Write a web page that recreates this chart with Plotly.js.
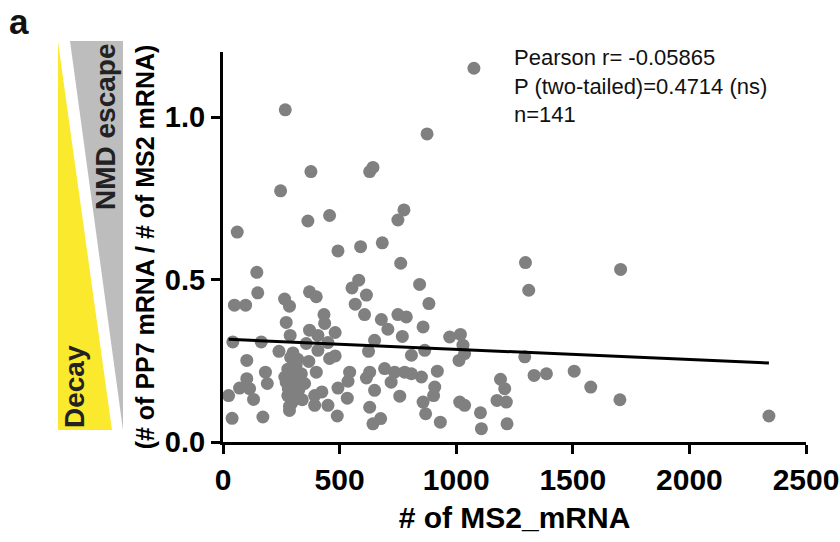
<!DOCTYPE html>
<html>
<head>
<meta charset="utf-8">
<script src="https://cdn.plot.ly/plotly-3.0.1.min.js"></script>
<style>html,body{margin:0;padding:0;background:#fff;}#chart{width:840px;height:542px;}</style>
</head>
<body>
<div id="chart"></div>
<script>
// ---- data ----
const ms2Counts = [
  1076, 267, 875, 377, 629, 643, 247, 61, 364, 457, 776, 750, 493, 590, 683, 762,
  145, 149, 49, 97, 264, 285, 371, 400, 271, 288, 371, 42, 164, 357, 240, 300, 102, 368,
  182, 278, 314, 336, 190, 102, 71, 114, 131, 24, 271, 314, 278, 311, 285, 393, 39, 171, 400,
  553, 582, 615, 567, 607, 433, 436, 679, 707, 750, 786, 769, 481, 407, 450, 650, 624, 407,
  808, 457, 481, 543, 629, 693, 736, 779, 808, 615, 721, 536, 493, 650, 393, 424, 533, 450,
  758, 629, 490, 643, 676,
  843, 883, 858, 972, 1018, 1029, 1036, 1012, 865, 851, 919, 908, 903, 858, 869, 932, 1015,
  1036, 1104, 1108, 1190, 1208, 1175, 1215, 1218,
  1297, 1311, 1294, 1334, 1387, 1506, 1577,
  1705, 1702, 2341,
  290, 320, 300, 330, 280, 325, 295, 340, 265, 305, 350, 285
];
const ratioPP7toMS2 = [
  1.150, 1.022, 0.948, 0.832, 0.832, 0.845, 0.773, 0.646, 0.680, 0.697, 0.714, 0.683, 0.588, 0.601, 0.613, 0.550,
  0.522, 0.459, 0.421, 0.421, 0.440, 0.418, 0.462, 0.447, 0.368, 0.328, 0.344, 0.308, 0.308, 0.303, 0.279, 0.274, 0.251, 0.248,
  0.215, 0.224, 0.238, 0.210, 0.180, 0.195, 0.166, 0.164, 0.131, 0.143, 0.184, 0.184, 0.143, 0.138, 0.097, 0.113, 0.073, 0.077, 0.215,
  0.474, 0.498, 0.452, 0.424, 0.392, 0.392, 0.365, 0.377, 0.347, 0.392, 0.385, 0.325, 0.337, 0.328, 0.306, 0.313, 0.279, 0.282,
  0.267, 0.257, 0.265, 0.215, 0.215, 0.226, 0.215, 0.215, 0.210, 0.197, 0.184, 0.187, 0.166, 0.159, 0.143, 0.154, 0.135, 0.113,
  0.141, 0.107, 0.080, 0.056, 0.072,
  0.485, 0.426, 0.354, 0.323, 0.331, 0.298, 0.272, 0.251, 0.282, 0.200, 0.218, 0.169, 0.143, 0.123, 0.087, 0.061, 0.123,
  0.113, 0.090, 0.041, 0.193, 0.164, 0.128, 0.123, 0.056,
  0.552, 0.467, 0.262, 0.205, 0.210, 0.218, 0.169,
  0.531, 0.130, 0.080,
  0.260, 0.255, 0.205, 0.190, 0.165, 0.160, 0.120, 0.130, 0.200, 0.230, 0.180, 0.110
];
const fitX = [24, 2341];
const fitY = [0.316, 0.243];
const statLines = ["Pearson r= -0.05865", "P (two-tailed)=0.4714 (ns)", "n=141"];
const xTicks = [0, 500, 1000, 1500, 2000, 2500];
const yTicks = [0.0, 0.5, 1.0];

// ---- layout helpers (pixel -> paper) ----
const W = 840, H = 542, L = 223, R = 34, T = 52, B = 100;
const pw = W - L - R, ph = H - T - B;
const px = v => (v - L) / pw;
const py = v => (H - B - v) / ph;

const font = "Liberation Sans, Arial, sans-serif";

const traces = [
  {
    type: "scatter", mode: "markers", x: ms2Counts, y: ratioPP7toMS2,
    marker: {color: "#808080", size: 13, line: {width: 0}},
    cliponaxis: false, hoverinfo: "x+y", showlegend: false
  },
  {
    type: "scatter", mode: "lines", x: fitX, y: fitY,
    line: {color: "#000", width: 3}, showlegend: false, hoverinfo: "skip"
  }
];

const layout = {
  width: W, height: H,
  margin: {l: L, r: R, t: T, b: B},
  paper_bgcolor: "#fff", plot_bgcolor: "#fff",
  showlegend: false,
  xaxis: {
    range: [0, 2500], tickvals: xTicks, ticktext: xTicks.map(String),
    showgrid: false, zeroline: false, showline: true, linecolor: "#000", linewidth: 3,
    ticks: "outside", ticklen: 9, tickwidth: 3, tickcolor: "#000",
    tickfont: {family: font, size: 30, color: "#000", weight: "bold"},
    title: {text: "# of MS2_mRNA", font: {family: font, size: 30, color: "#000", weight: "bold"}, standoff: 12}
  },
  yaxis: {
    range: [0, 1.2], tickvals: yTicks, ticktext: yTicks.map(v => v.toFixed(1)),
    showgrid: false, zeroline: false, showline: true, linecolor: "#000", linewidth: 3,
    ticks: "outside", ticklen: 9, tickwidth: 3, tickcolor: "#000",
    tickfont: {family: font, size: 29, color: "#000", weight: "bold"},
    title: {text: "(# of PP7 mRNA / # of MS2 mRNA)", font: {family: font, size: 25, color: "#000", weight: "bold"}, standoff: 4}
  },
  shapes: [
    {type: "path", xref: "paper", yref: "paper",
     path: `M ${px(58)} ${py(42)} L ${px(58)} ${py(430)} L ${px(112)} ${py(430)} Z`,
     fillcolor: "#FAE92C", line: {width: 0}, layer: "above"},
    {type: "path", xref: "paper", yref: "paper",
     path: `M ${px(70)} ${py(41)} L ${px(123)} ${py(41)} L ${px(123)} ${py(430)} Z`,
     fillcolor: "#BDBDBD", line: {width: 0}, layer: "above"}
  ],
  annotations: [
    {text: "<b>a</b>", xref: "paper", yref: "paper", x: px(7), y: py(0), xanchor: "left", yanchor: "top",
     showarrow: false, font: {family: font, size: 35, color: "#111"}},
    {text: "<b>Decay</b>", xref: "paper", yref: "paper", x: px(74), y: py(387), textangle: -90,
     xanchor: "center", yanchor: "middle", showarrow: false, font: {family: font, size: 28, color: "#222"}},
    {text: "<b>NMD escape</b>", xref: "paper", yref: "paper", x: px(105), y: py(127), textangle: -90,
     xanchor: "center", yanchor: "middle", showarrow: false, font: {family: font, size: 28, color: "#222"}},
    {text: statLines.join("<br>"), xref: "paper", yref: "paper", x: px(512), y: py(43), xanchor: "left", yanchor: "top",
     align: "left", showarrow: false, font: {family: font, size: 22, color: "#111"}}
  ]
};

Plotly.newPlot("chart", traces, layout, {staticPlot: true, displayModeBar: false});
</script>
</body>
</html>
